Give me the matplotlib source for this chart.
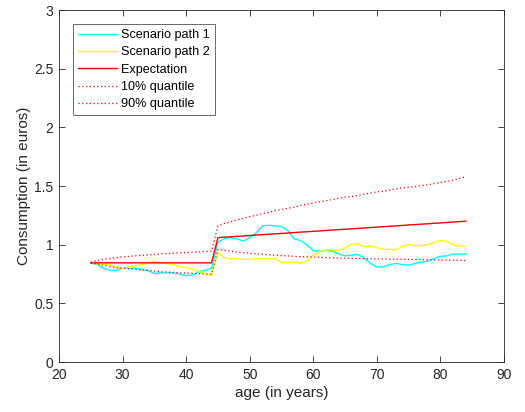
import matplotlib
matplotlib.use("Agg")
import matplotlib.pyplot as plt
import numpy as np

plt.rcParams['font.family'] = ['Liberation Sans', 'DejaVu Sans']

ages = list(range(25, 85))

path1 = [0.845, 0.83, 0.80, 0.78, 0.78, 0.80, 0.80, 0.80, 0.79, 0.78,
         0.755, 0.76, 0.76, 0.76, 0.75, 0.735, 0.74, 0.77, 0.78, 0.80,
         1.02, 1.05, 1.06, 1.05, 1.03, 1.06, 1.10, 1.16, 1.165, 1.16,
         1.155, 1.12, 1.05, 1.035, 1.00, 0.95, 0.945, 0.95, 0.945, 0.92,
         0.905, 0.91, 0.915, 0.89, 0.84, 0.81, 0.81, 0.83, 0.84, 0.83,
         0.825, 0.84, 0.85, 0.86, 0.88, 0.90, 0.905, 0.92, 0.92, 0.92]

path2 = [0.845, 0.835, 0.83, 0.83, 0.81, 0.80, 0.81, 0.82, 0.83, 0.84,
         0.86, 0.845, 0.84, 0.83, 0.81, 0.81, 0.79, 0.77, 0.75, 0.74,
         0.93, 0.89, 0.88, 0.88, 0.875, 0.875, 0.88, 0.88, 0.88, 0.88,
         0.85, 0.85, 0.85, 0.84, 0.86, 0.91, 0.94, 0.955, 0.955, 0.95,
         0.97, 1.005, 1.005, 0.985, 0.99, 0.975, 0.96, 0.96, 0.955, 0.985,
         1.0, 0.99, 0.99, 1.0, 1.02, 1.035, 1.03, 1.0, 0.99, 0.985]

expectation = [0.845] * 20 + [
    1.060, 1.064, 1.067, 1.071, 1.074, 1.078, 1.082, 1.085, 1.089, 1.092,
    1.096, 1.099, 1.103, 1.107, 1.110, 1.114, 1.117, 1.121, 1.125, 1.128,
    1.132, 1.135, 1.139, 1.142, 1.146, 1.150, 1.153, 1.157, 1.160, 1.164,
    1.168, 1.171, 1.175, 1.178, 1.182, 1.185, 1.189, 1.193, 1.196, 1.200]

q10 = [0.845, 0.835, 0.825, 0.815, 0.805, 0.80, 0.795, 0.79, 0.785, 0.78,
       0.775, 0.77, 0.767, 0.764, 0.761, 0.758, 0.755, 0.752, 0.75, 0.748,
       0.96, 0.952, 0.945, 0.938, 0.932, 0.927, 0.922, 0.918, 0.914, 0.91,
       0.907, 0.904, 0.901, 0.898, 0.896, 0.894, 0.892, 0.89, 0.888, 0.886,
       0.884, 0.883, 0.882, 0.881, 0.880, 0.879, 0.878, 0.877, 0.876, 0.875,
       0.874, 0.873, 0.872, 0.871, 0.870, 0.869, 0.868, 0.867, 0.866, 0.865]

q90 = [0.85, 0.865, 0.875, 0.882, 0.889, 0.895, 0.90, 0.905, 0.909, 0.913,
       0.917, 0.921, 0.924, 0.927, 0.93, 0.933, 0.936, 0.939, 0.942, 0.945,
       1.16, 1.18, 1.195, 1.21, 1.225, 1.24, 1.25, 1.265, 1.275, 1.29,
       1.30, 1.31, 1.32, 1.335, 1.345, 1.355, 1.365, 1.375, 1.385, 1.395,
       1.405, 1.41, 1.42, 1.43, 1.44, 1.45, 1.455, 1.465, 1.475, 1.485,
       1.49, 1.495, 1.505, 1.51, 1.52, 1.53, 1.54, 1.55, 1.565, 1.58]

labels = ["Scenario path 1", "Scenario path 2", "Expectation",
          "10% quantile", "90% quantile"]

fig = plt.figure(figsize=(5.25, 4.12), dpi=100)
ax = fig.add_axes([59/525, 1 - 362/412, (504-59)/525, (362-10)/412])

ax.plot(ages, path1, color='cyan', lw=1.0, label=labels[0])
ax.plot(ages, path2, color='yellow', lw=1.0, label=labels[1])
ax.plot(ages, expectation, color='red', lw=1.0, label=labels[2])
ax.plot(ages, q10, color='red', lw=0.9, ls=(0, (1, 2)), label=labels[3])
ax.plot(ages, q90, color='red', lw=0.9, ls=(0, (1, 2)), label=labels[4])

ax.set_xlim(20, 90)
ax.set_ylim(0, 3)
ax.set_xticks([20, 30, 40, 50, 60, 70, 80, 90])
ax.set_yticks([0, 0.5, 1, 1.5, 2, 2.5, 3])
ax.set_yticklabels(['0', '0.5', '1', '1.5', '2', '2.5', '3'])
ax.tick_params(direction='in', top=True, right=True, length=4, width=0.6,
               labelsize=10, colors='#262626', pad=4)
for s in ax.spines.values():
    s.set_linewidth(0.6)
    s.set_color('#262626')

ax.set_xlabel('age (in years)', fontsize=11, color='#262626', labelpad=3)
ax.set_ylabel('Consumption (in euros)', fontsize=11, color='#262626', labelpad=2)

leg = ax.legend(loc='upper left', bbox_to_anchor=(14/445, 1 - 14/352),
                fontsize=9.1, frameon=True, fancybox=False, handlelength=3.1,
                handletextpad=0.3, borderpad=0.4, labelspacing=0.42,
                borderaxespad=0)
leg.get_frame().set_edgecolor('#262626')
leg.get_frame().set_linewidth(0.6)

fig.savefig('out.png', dpi=100)
